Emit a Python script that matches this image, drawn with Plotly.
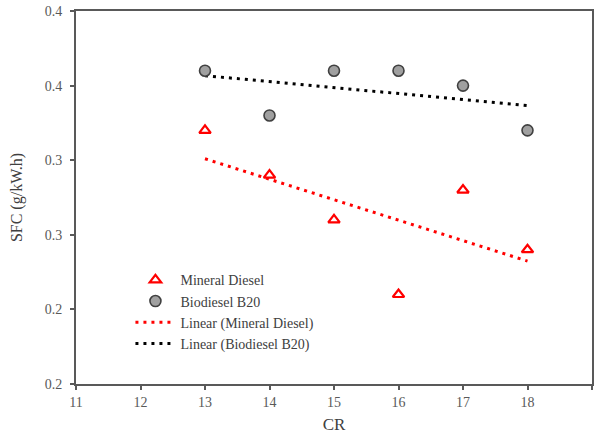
import numpy as np
import plotly.graph_objects as go

cr = [13, 14, 15, 16, 17, 18]
mineral_diesel = [0.37, 0.34, 0.31, 0.26, 0.33, 0.29]
biodiesel_b20 = [0.41, 0.38, 0.41, 0.41, 0.40, 0.37]

y_tickvals = [0.20, 0.25, 0.30, 0.35, 0.40, 0.45]
y_ticktext = ["0.2", "0.2", "0.3", "0.3", "0.4", "0.4"]
x_tickvals = [11, 12, 13, 14, 15, 16, 17, 18, 19]

FONT = "Liberation Serif, Times New Roman, serif"


def linfit(x, y):
    m, b = np.polyfit(x, y, 1)
    xs = [min(x), max(x)]
    return xs, [m * v + b for v in xs]


fig = go.Figure()

xm, ym = linfit(cr, mineral_diesel)
xb, yb = linfit(cr, biodiesel_b20)

fig.add_trace(go.Scatter(
    x=xm, y=ym, mode="lines", name="Linear (Mineral Diesel)",
    line=dict(color="#ff0000", width=3, dash="3px,5px"), legendrank=3))
fig.add_trace(go.Scatter(
    x=xb, y=yb, mode="lines", name="Linear (Biodiesel B20)",
    line=dict(color="#000000", width=3, dash="3px,5px"), legendrank=4))

fig.add_trace(go.Scatter(
    x=cr, y=mineral_diesel, mode="markers", name="Mineral Diesel",
    marker=dict(symbol="triangle-up-open", size=10, color="#ff0000",
                line=dict(width=2.2, color="#ff0000")), legendrank=1))
fig.add_trace(go.Scatter(
    x=cr, y=biodiesel_b20, mode="markers", name="Biodiesel B20",
    marker=dict(symbol="circle", size=11, color="#a0a0a0",
                line=dict(width=1.6, color="#404040")), legendrank=2))

axis_common = dict(
    showline=True, linecolor="#595959", linewidth=2, mirror=True,
    ticks="outside", ticklen=4, tickcolor="#595959", tickwidth=1.5,
    showgrid=False, zeroline=False, automargin=False,
    tickfont=dict(family=FONT, size=14, color="#595959"),
)

fig.update_layout(
    width=595, height=436,
    margin=dict(l=76, r=3, t=11, b=52, autoexpand=False),
    paper_bgcolor="white", plot_bgcolor="white",
    font=dict(family=FONT, color="#404040"),
    xaxis=dict(range=[11, 19], tickvals=x_tickvals,
               title=dict(text="CR", font=dict(family=FONT, size=17, color="#404040"),
                          standoff=9),
               **axis_common),
    yaxis=dict(range=[0.2, 0.45], tickvals=y_tickvals, ticktext=y_ticktext,
               ticklabelstandoff=5,
               title=dict(text="SFC (g/kW.h)", font=dict(family=FONT, size=16, color="#404040"),
                          standoff=18),
               **axis_common),
    legend=dict(x=0.1055, y=0.321, xanchor="left", yanchor="top",
                bgcolor="rgba(0,0,0,0)", tracegroupgap=0,
                font=dict(family=FONT, size=14, color="#404040"),
                itemwidth=40),
    showlegend=True,
)

fig.write_html("out.html",
               config={"displayModeBar": False},
               post_script="document.body.style.margin='0';document.body.style.overflow='hidden';")
